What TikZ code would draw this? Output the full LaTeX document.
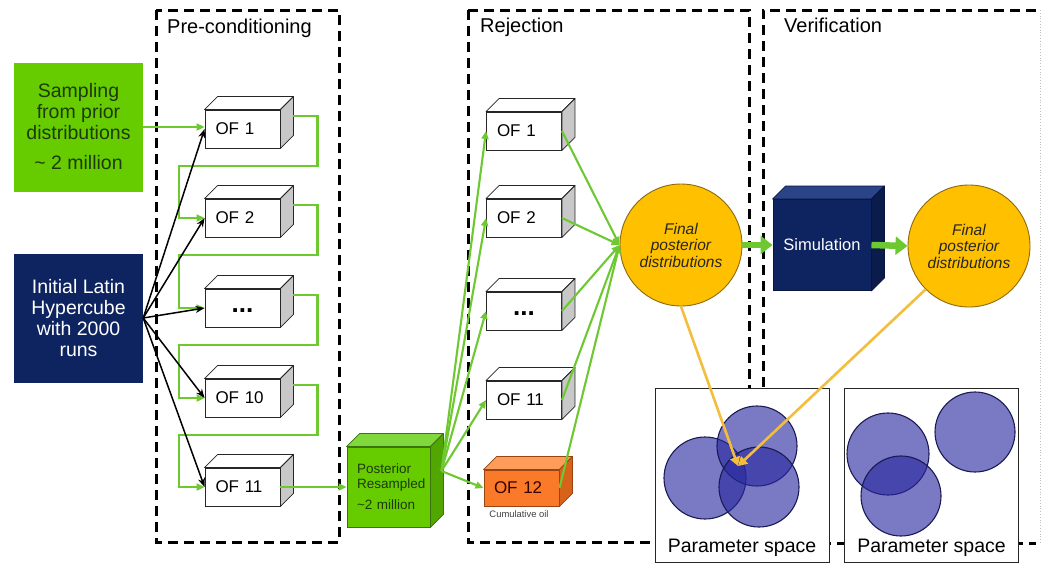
\documentclass[tikz,border=0pt]{standalone}
\usepackage{fontspec}
\setmainfont{Liberation Sans}
\usetikzlibrary{arrows.meta,calc}

\definecolor{leaf}{HTML}{66CC00}
\definecolor{leaftop}{HTML}{80D83C}
\definecolor{leafside}{HTML}{52A600}
\definecolor{leafedge}{HTML}{3A7410}
\definecolor{navy}{HTML}{0E2460}
\definecolor{navytop}{HTML}{2B4488}
\definecolor{navyside}{HTML}{0A1B4C}
\definecolor{navyedge}{HTML}{08163E}
\definecolor{flow}{HTML}{6EC832}
\definecolor{gold}{HTML}{FFC000}
\definecolor{goldedge}{HTML}{8C6A10}
\definecolor{amber}{HTML}{F2BE3C}
\definecolor{tangerine}{HTML}{FA7A2A}
\definecolor{tangerinetop}{HTML}{FF9C5A}
\definecolor{tangerineside}{HTML}{D8621A}
\definecolor{blob}{HTML}{2828A0}
\definecolor{blobedge}{HTML}{1A1A55}
\definecolor{textgreen}{HTML}{1E3A08}
\definecolor{boxside}{HTML}{C8C8C8}

% top and side faces of a box whose front face is node #1
\newcommand\cubefaces[5]{%
  \filldraw[fill=#3,draw=#5,line width=0.8pt,line join=round]
    (#1.north west) -- ++(#2,-#2) -- ($(#1.north east)+(#2,-#2)$) -- (#1.north east) -- cycle;
  \filldraw[fill=#4,draw=#5,line width=0.8pt,line join=round]
    (#1.north east) -- ++(#2,-#2) -- ($(#1.south east)+(#2,-#2)$) -- (#1.south east) -- cycle;
}

\tikzset{
  phase/.style={draw=black, line width=3pt, dash pattern=on 10pt off 6pt},
  phaselabel/.style={anchor=base west, inner sep=0pt, font=\fontsize{20}{24}\selectfont},
  ofbox/.style={draw=black!85, fill=white, line width=0.9pt, minimum width=75pt,
    minimum height=38pt, text width=54pt, inner xsep=10.5pt, inner ysep=0pt,
    align=left, font=\fontsize{17}{20}\selectfont},
  dotsbox/.style={ofbox, align=center, font=\fontsize{26}{24}\bfseries},
  flowline/.style={draw=flow, line width=2.1pt, -{Triangle[length=8pt,width=7pt]}},
  bigflow/.style={draw=flow, line width=6.5pt, -{Triangle[length=12pt,width=18pt]}},
  blackarrow/.style={draw=black, line width=1.5pt, -{Stealth[length=9pt,width=7pt]}},
  goldarrow/.style={draw=amber, line width=2.6pt, -{Triangle[length=9pt,width=10pt]}},
  posterior/.style={circle, minimum size=122pt, inner sep=0pt, fill=gold, draw=goldedge,
    line width=0.9pt, align=center, text=black!85,
    font=\fontsize{15.5}{16.5}\selectfont\itshape},
  pspace/.style={draw=black!85, fill=white, line width=1pt, minimum width=174pt, minimum height=174pt},
  pslabel/.style={anchor=base, inner sep=0pt, font=\fontsize{19.5}{22}\selectfont},
  blobstyle/.style={fill=blob, fill opacity=0.62, draw=blobedge, draw opacity=1, line width=1.1pt},
}

\begin{document}
\begin{tikzpicture}[x=1pt,y=-1pt]
\useasboundingbox (0,0) rectangle (1043,563);
\fill[white] (0,0) rectangle (1043,563);

% dashed phase frames
\draw[phase] (156,10) rectangle (339,542);
\draw[phase] (468,10) rectangle (749,542);
\draw[phase] (1036,10) -- (763,10) -- (763,543) -- (1036,543);
\draw[black!25, dotted, line width=0.8pt] (1040,10) -- (1040,543);

\node[phaselabel] (lblpre) at (167,33) {Pre-conditioning};
\node[phaselabel] (lblrej) at (480,32) {Rejection};
\node[phaselabel] (lblver) at (784,32) {Verification};

% parameter space panels
\node[pspace] (ps1) at (742,475) {};
\node[pspace] (ps2) at (931.5,475) {};
\node[pslabel] (ps1label) at (742,552) {Parameter space};
\node[pslabel] (ps2label) at (931.5,552) {Parameter space};

\begin{scope}
  \draw[blobstyle] (705,478) circle[radius=41];
  \draw[blobstyle] (757,446) circle[radius=40];
  \draw[blobstyle] (759,487) circle[radius=40];
  \draw[blobstyle] (888,454) circle[radius=41];
  \draw[blobstyle] (975,432) circle[radius=40];
  \draw[blobstyle] (901,496) circle[radius=40];
\end{scope}

% inputs
\node[fill=leaf, minimum width=129pt, minimum height=129pt, align=center, text=textgreen,
  font=\fontsize{19.5}{21}\selectfont] (sampling) at (78.5,127)
  {Sampling\\from prior\\distributions\\[9pt]\textasciitilde{} 2 million};
\node[fill=navy, minimum width=129pt, minimum height=129pt, align=center, text=white,
  font=\fontsize{19.5}{21}\selectfont] (lhc) at (78.5,318)
  {Initial Latin\\Hypercube\\with 2000\\runs};

% pre-conditioning objective functions
\node[ofbox] (pre1) at (242.5,129) {OF 1};
\node[ofbox] (pre2) at (242.5,218) {OF 2};
\node[dotsbox] (pre3) at (242.5,308) {\strut...};
\node[ofbox] (pre10) at (242.5,398) {OF 10};
\node[ofbox] (pre11) at (242.5,487) {OF 11};
\foreach \n in {pre1,pre2,pre3,pre10,pre11} {\cubefaces{\n}{13}{white}{boxside}{black!85}}

% resampled posterior
\node[fill=leaf, draw=leafedge, line width=0.9pt, minimum width=83pt, minimum height=80pt,
  text width=63pt, inner xsep=10pt, align=left, text=textgreen,
  font=\fontsize{13.5}{14.5}\selectfont] (resampled) at (388.5,487)
  {Posterior\\Resampled\\[7pt]\textasciitilde2 million};
\cubefaces{resampled}{13}{leaftop}{leafside}{leafedge}

% rejection objective functions
\node[ofbox, inner xsep=10pt, text width=54pt] (rej1) at (524,131) {OF 1};
\node[ofbox, inner xsep=10pt, text width=54pt] (rej2) at (524,218) {OF 2};
\node[dotsbox, inner xsep=10pt, text width=54pt] (rej3) at (524,311) {\strut...};
\node[ofbox, inner xsep=10pt, text width=54pt] (rej11) at (524,400) {OF 11};
\node[ofbox, fill=tangerine, draw=tangerineside!70!black, minimum height=36pt,
  inner xsep=10pt, text width=55pt, text=black!80!red] (rej12) at (521.5,488) {OF 12};
\foreach \n in {rej1,rej2,rej3,rej11} {\cubefaces{\n}{13}{white}{boxside}{black!85}}
\cubefaces{rej12}{13}{tangerinetop}{tangerineside}{tangerineside!70!black}
\node[inner sep=0pt, text=black!75, font=\fontsize{9.4}{11}\selectfont] (cumoil) at (519,514.5) {Cumulative oil};

% posterior distributions and simulation
\node[posterior] (final1) at (681,245) {Final\\posterior\\distributions};
\node[fill=navy, draw=navyedge, line width=0.9pt, minimum width=98pt, minimum height=91pt,
  text=white, font=\fontsize{16.5}{18}\selectfont] (sim) at (822,245) {Simulation};
\cubefaces{sim}{13}{navytop}{navyside}{navyedge}
\node[posterior] (final2) at (969,246) {Final\\posterior\\distributions};

% pre-conditioning chain
\draw[flowline] (sampling.east) -- (sampling.east -| pre1.west);
\foreach \a/\b in {pre1/pre2,pre2/pre3,pre3/pre10,pre10/pre11}
  \draw[flowline] ($(\a.east)+(13,-13)$) -- ++(24,0) -- ++(0,50) -| ($(\b.west)+(-26,0)$) -- (\b.west);
\foreach \t in {pre1,pre2,pre3,pre10,pre11}
  \draw[blackarrow] (lhc.east) -- (\t.west);
\draw[flowline] (pre11.east) -- (resampled.west);

% rejection fan-out and fan-in
\foreach \t in {rej1,rej2,rej3,rej11,rej12}
  \draw[flowline] ($(resampled.east)+(11,-16)$) -- (\t.west);
\foreach \s in {rej1,rej2,rej3,rej11,rej12}
  \draw[flowline] (\s.east) -- (final1.west);

% verification
\draw[bigflow] (final1.east) -- (sim.west);
\draw[bigflow] (sim.east) -- (final2.west);

\coordinate (hit) at (738,466);
\draw[goldarrow] (final1.south) -- (hit);
\draw[goldarrow] (final2.225) -- (hit);
\end{tikzpicture}
\end{document}
